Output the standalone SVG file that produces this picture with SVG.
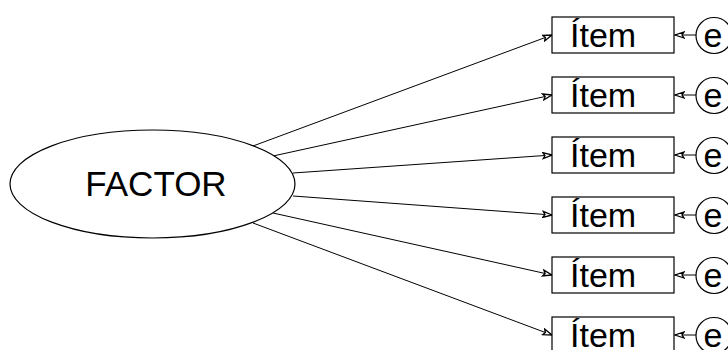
<svg xmlns="http://www.w3.org/2000/svg" width="728" height="350" viewBox="0 0 728 350">
<style>
.shape{fill:#fff;stroke:#000;stroke-width:1.2}
.lbl{font-family:"Liberation Sans",Arial,sans-serif;font-size:34px;fill:#000}
.conn{stroke:#000;stroke-width:1;fill:none;marker-end:url(#ah)}
</style>
<defs>
<marker id="ah" markerWidth="12" markerHeight="8" refX="10" refY="4" orient="auto" markerUnits="userSpaceOnUse">
<path d="M1,1 L10,4 L1,7 L3,4 Z" fill="#fff" stroke="#000" stroke-width="1.3" stroke-linejoin="miter"/>
</marker>
</defs>
<rect width="728" height="350" fill="#fff"/>
<g id="connectors">
<line class="conn" x1="253" y1="146" x2="552" y2="35"/>
<line class="conn" x1="273" y1="156" x2="552" y2="95"/>
<line class="conn" x1="293" y1="173" x2="552" y2="155"/>
<line class="conn" x1="293" y1="196" x2="552" y2="215"/>
<line class="conn" x1="273" y1="213" x2="552" y2="275"/>
<line class="conn" x1="253" y1="223" x2="552" y2="335"/>
<line class="conn" x1="696" y1="35" x2="675" y2="35"/>
<line class="conn" x1="696" y1="95" x2="675" y2="95"/>
<line class="conn" x1="696" y1="155" x2="675" y2="155"/>
<line class="conn" x1="696" y1="215" x2="675" y2="215"/>
<line class="conn" x1="696" y1="275" x2="675" y2="275"/>
<line class="conn" x1="696" y1="335" x2="675" y2="335"/>
</g>
<g id="factor">
<ellipse class="shape" cx="152.5" cy="184" rx="142.5" ry="54"/>
<text class="lbl" x="156" y="196" text-anchor="middle" style="font-size:35px">FACTOR</text>
</g>
<g id="item1"><rect class="shape" x="552" y="17" width="122" height="36"/><text class="lbl" x="570" y="46.5">Ítem</text></g>
<g id="item2"><rect class="shape" x="552" y="77" width="122" height="36"/><text class="lbl" x="570" y="106.5">Ítem</text></g>
<g id="item3"><rect class="shape" x="552" y="137" width="122" height="36"/><text class="lbl" x="570" y="166.5">Ítem</text></g>
<g id="item4"><rect class="shape" x="552" y="197" width="122" height="36"/><text class="lbl" x="570" y="226.5">Ítem</text></g>
<g id="item5"><rect class="shape" x="552" y="257" width="122" height="36"/><text class="lbl" x="570" y="286.5">Ítem</text></g>
<g id="item6"><rect class="shape" x="552" y="317" width="122" height="36"/><text class="lbl" x="570" y="346.5">Ítem</text></g>
<g id="e1"><circle class="shape" cx="714" cy="35.5" r="18"/><text class="lbl" x="713" y="47" text-anchor="middle">e</text></g>
<g id="e2"><circle class="shape" cx="714" cy="95.5" r="18"/><text class="lbl" x="713" y="107" text-anchor="middle">e</text></g>
<g id="e3"><circle class="shape" cx="714" cy="155.5" r="18"/><text class="lbl" x="713" y="167" text-anchor="middle">e</text></g>
<g id="e4"><circle class="shape" cx="714" cy="215.5" r="18"/><text class="lbl" x="713" y="227" text-anchor="middle">e</text></g>
<g id="e5"><circle class="shape" cx="714" cy="275.5" r="18"/><text class="lbl" x="713" y="287" text-anchor="middle">e</text></g>
<g id="e6"><circle class="shape" cx="714" cy="335.5" r="18"/><text class="lbl" x="713" y="347" text-anchor="middle">e</text></g>
</svg>
